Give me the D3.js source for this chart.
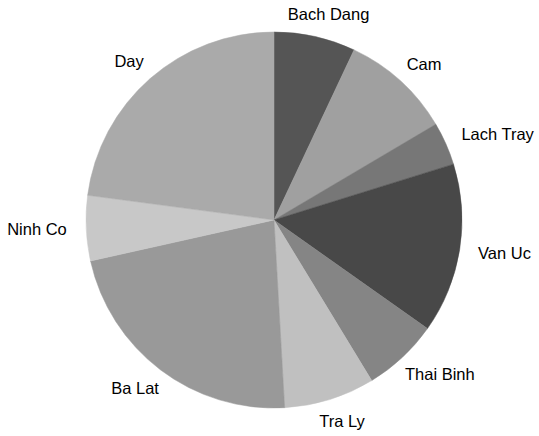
<!DOCTYPE html>
<html>
<head>
<meta charset="utf-8">
<script src="https://cdn.jsdelivr.net/npm/d3@7/dist/d3.min.js"></script>
<style>
  html, body { margin: 0; padding: 0; background: #ffffff; }
  svg { display: block; }
  text { font-family: "Liberation Sans", Arial, sans-serif; font-size: 16.5px; fill: #000; }
</style>
</head>
<body>
<svg id="chart" width="539" height="436"></svg>
<script>
const categories = ["Bach Dang", "Cam", "Lach Tray", "Van Uc", "Thai Binh", "Tra Ly", "Ba Lat", "Ninh Co", "Day"];
const values = [7.0, 9.5, 3.7, 14.6, 6.5, 7.8, 22.4, 5.6, 22.9];
const colors = ["#555555", "#a0a0a0", "#777777", "#484848", "#858585", "#c0c0c0", "#999999", "#c8c8c8", "#aaaaaa"];

const width = 539, height = 436;
const cx = 274, cy = 220, radius = 188;
const labelGap = 15;

const svg = d3.select("#chart");
const g = svg.append("g").attr("transform", `translate(${cx},${cy})`);

const data = categories.map((c, i) => ({ name: c, value: values[i], color: colors[i] }));

const pie = d3.pie().value(d => d.value).sort(null);
const arc = d3.arc().innerRadius(0).outerRadius(radius);
const arcs = pie(data);

g.selectAll("path.slice")
  .data(arcs)
  .join("path")
  .attr("class", "slice")
  .attr("d", arc)
  .attr("fill", d => d.data.color)
  .attr("stroke", d => d.data.color)
  .attr("stroke-width", 0.5);

const labels = g.selectAll("text.label")
  .data(arcs)
  .join("text")
  .attr("class", "label")
  .attr("text-anchor", "middle")
  .attr("dominant-baseline", "central")
  .text(d => d.data.name);

labels.each(function(d) {
  const a = (d.startAngle + d.endAngle) / 2;
  const s = Math.sin(a), c = -Math.cos(a);
  const w = this.getComputedTextLength();
  const h = 16;
  const r0 = radius + labelGap;
  const x = r0 * s + (w / 2) * s * 1.15;
  const y = r0 * c + (h / 2) * c;
  d3.select(this).attr("x", x).attr("y", y);
});
</script>
</body>
</html>
